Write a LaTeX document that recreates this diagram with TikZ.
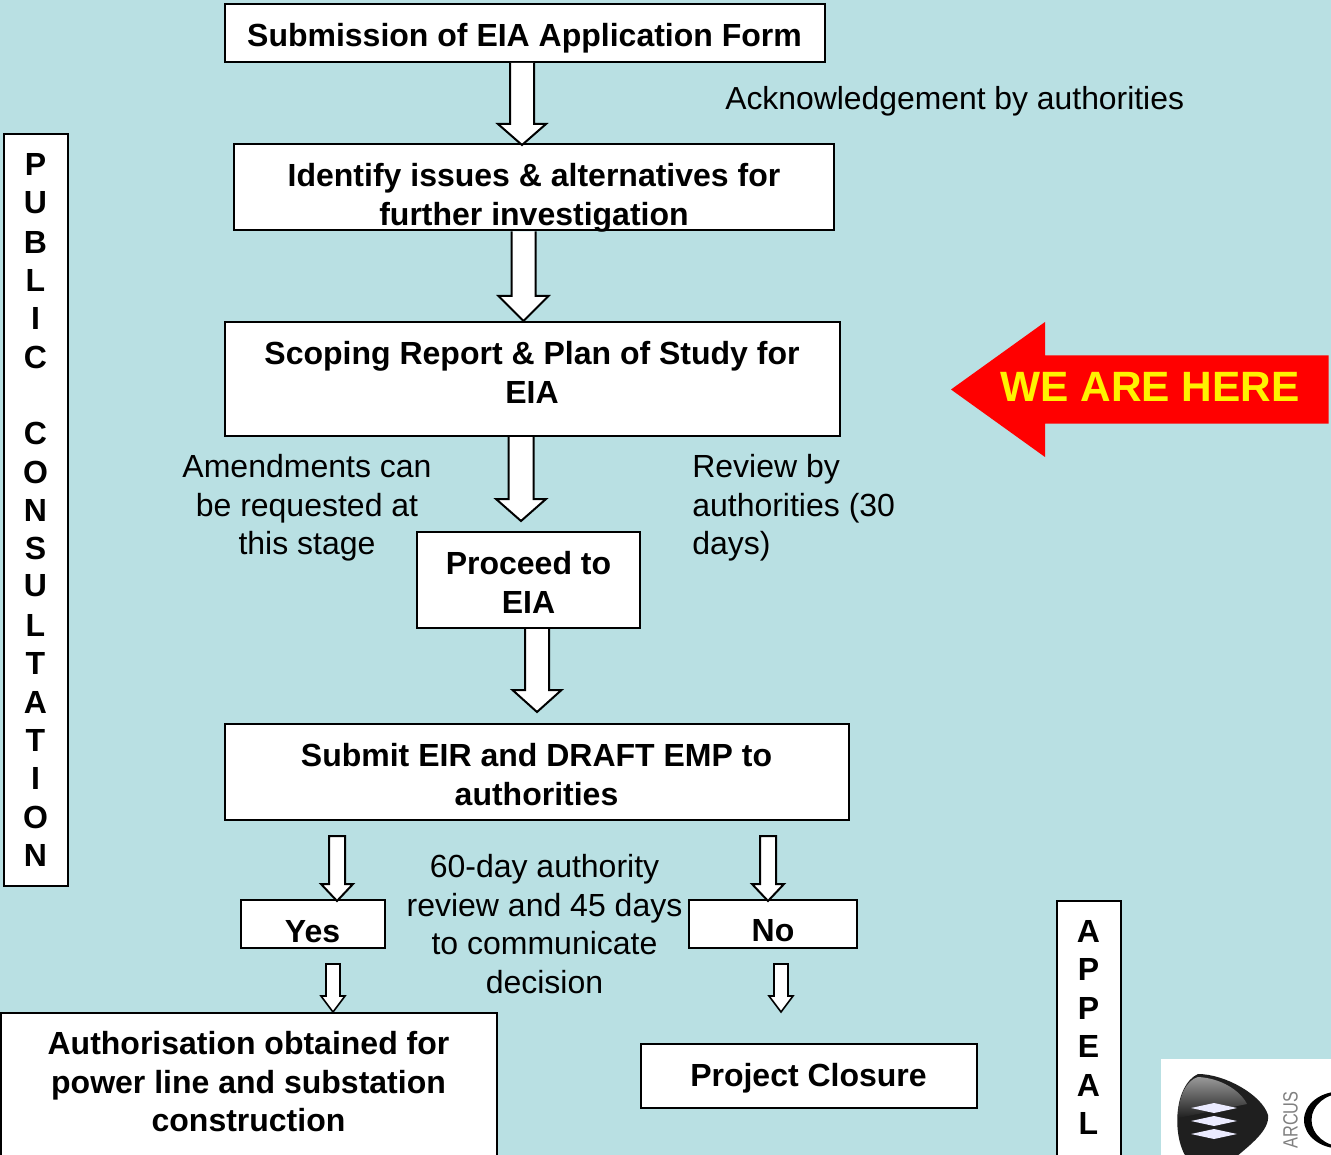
\documentclass[tikz,border=0pt]{standalone}
\usepackage{fontspec}
\setmainfont{Liberation Sans}
\usetikzlibrary{calc}
\definecolor{bgc}{HTML}{B9E0E3}
\tikzset{
 x=0.75pt,y=-0.75pt,
 box/.style={draw=black,fill=white,line width=1.5pt,align=center,inner sep=0pt,font=\boldtxt},
 boxlabel/.style={align=center,inner sep=0pt,font=\boldtxt},
 plain/.style={align=center,inner sep=0pt,font=\regtxt},
 flow/.style={draw=black,fill=white,line width=1.5pt,line join=miter}
}
\newcommand{\boldtxt}{\fontsize{24}{28.9}\selectfont\bfseries}
\newcommand{\regtxt}{\fontsize{24}{28.9}\selectfont}
% \flowarrow{from-node}{x}{tip y}{head start y}{shaft half}{head half}
\newcommand{\flowarrow}[6]{%
 \draw[flow] let \p1=(#1.south) in
   (#2-#5,\y1) -- (#2-#5,#4) -- (#2-#6,#4) -- (#2,#3) -- (#2+#6,#4) -- (#2+#5,#4) -- (#2+#5,\y1);}
\begin{document}
\begin{tikzpicture}
\useasboundingbox (0,0) rectangle (1331,1155);
\fill[bgc] (0,0) rectangle (1331,1155);
\node[box,minimum width=600*0.75pt,minimum height=58*0.75pt] (a) at (524.5,33) {};
\node[box,minimum width=600*0.75pt,minimum height=86*0.75pt] (b) at (534,187.5) {};
\node[box,minimum width=615*0.75pt,minimum height=114*0.75pt] (c) at (532.5,379) {};
\node[box,minimum width=223*0.75pt,minimum height=96*0.75pt] (d) at (528.5,580) {};
\node[box,minimum width=624*0.75pt,minimum height=96*0.75pt] (e) at (536.5,772) {};
\coordinate (eyes) at (337,836);
\coordinate (eno) at (768,836);
\node[box,minimum width=144*0.75pt,minimum height=48*0.75pt] (y) at (312.5,924) {};
\node[box,minimum width=168*0.75pt,minimum height=48*0.75pt] (n) at (773,924) {};
\coordinate (yy) at (333,964);
\coordinate (nn) at (781,964);
\node[box,minimum width=496*0.75pt,minimum height=150*0.75pt,anchor=north west] (f) at (0,1011.5) {};
\node[box,minimum width=336*0.75pt,minimum height=64*0.75pt] (g) at (808.5,1076) {};
% block arrows
\flowarrow{a}{522}{145}{124}{12}{24}
\flowarrow{b}{523.5}{321}{296}{12}{25}
\flowarrow{c}{521}{521}{499}{12.5}{25}
\flowarrow{d}{537}{712}{690}{12}{24.5}
\draw[flow] (eyes)++(-8,0) -- ++(0,48) -- ++(-8,0) -- (337,901) -- (353,884) -- (345,884) -- (345,836) -- cycle;
\draw[flow] (eno)++(-8,0) -- ++(0,48) -- ++(-8,0) -- (768,901) -- (784,884) -- (776,884) -- (776,836) -- cycle;
\draw[flow,line width=1.2pt] (yy)++(-7,0) -- ++(0,32) -- ++(-5,0) -- (333,1012) -- (345,996) -- (340,996) -- (340,964) -- cycle;
\draw[flow,line width=1.2pt] (nn)++(-7,0) -- ++(0,32) -- ++(-5,0) -- (781,1012) -- (793,996) -- (788,996) -- (788,964) -- cycle;
% box labels
\node[boxlabel] (at) at (524.5,38) {Submission of EIA Application Form};
\node[boxlabel] (bt) at (534,198) {Identify issues \& alternatives for\\further investigation};
\node[boxlabel] (ct) at (532,372.5) {Scoping Report \& Plan of Study for\\EIA};
\node[boxlabel] (dt) at (528.5,582.5) {Proceed to\\EIA};
\node[boxlabel] (et) at (536.5,774.5) {Submit EIR and DRAFT EMP to\\authorities};
\node[boxlabel] (yt) at (312.5,932) {Yes};
\node[boxlabel] (nt) at (773,931) {No};
\node[boxlabel] (ft) at (248.5,1082) {Authorisation obtained for\\power line and substation\\construction};
\node[boxlabel] (gt) at (808.5,1078) {Project Closure};
% side boxes
\node[box,minimum width=64*0.75pt,minimum height=752*0.75pt] (pc) at (36,510) {};
\foreach \ch/\yy in {P/164,U/203,B/242,L/280,I/318,C/357,C/433,O/472,N/510,S/548,U/586,L/625,T/663,A/702,T/740,I/778,O/817,N/855}
  \node[font=\boldtxt,inner sep=0pt] at (35.5,\yy) {\ch};
\node[box,minimum width=64*0.75pt,minimum height=270*0.75pt,anchor=north] (ap) at (1089,900) {};
\foreach \ch/\yy in {A/931,P/969,P/1008,E/1046,A/1085,L/1123}
  \node[font=\boldtxt,inner sep=0pt] at (1088.5,\yy) {\ch};
% free labels
\node[plain,anchor=west,font=\fontsize{23.9}{28.9}\selectfont] (ack) at (725,101) {Acknowledgement by authorities};
\node[plain] (am) at (307,508) {Amendments can\\be requested at\\this stage};
\node[plain,align=left,anchor=west] (rv) at (692,508) {Review by\\authorities (30\\days)};
\node[plain] (rev) at (544.5,924) {60-day authority\\review and 45 days\\to communicate\\decision};
% we are here
\fill[red] (951,389.5) -- (1045,322) -- (1045,355.5) -- (1328.5,355.5) -- (1328.5,423.5) -- (1045,423.5) -- (1045,457) -- cycle;
\node[font=\fontsize{31.8}{36}\selectfont\bfseries,text=yellow,inner sep=0pt] (wah) at (1150,387) {WE ARE HERE};
% logo
\begin{scope}
\clip (1161,1059) rectangle (1331,1155);
\fill[white] (1161,1059) rectangle (1331,1155);
\fill[black!88] (1198,1074) .. controls (1225,1074) and (1262,1095) .. (1268,1115) .. controls (1270,1130) and (1250,1145) .. (1236,1157) -- (1186,1157) .. controls (1172,1135) and (1174,1085) .. (1198,1074) -- cycle;
\shade[top color=black!40,bottom color=black!88] (1198,1077) .. controls (1220,1078) and (1240,1090) .. (1247,1104) -- (1178,1118) .. controls (1178,1098) and (1186,1080) .. (1198,1077) -- cycle;
\foreach \dy in {1108,1121,1134}
  \fill[white!92!blue] (1191,\dy) -- (1214,\dy-5) -- (1237,\dy) -- (1214,\dy+5) -- cycle;
\node[rotate=90,text=black!50,font=\fontsize{15.5}{16}\selectfont,inner sep=0pt] (arcus) at (1290.5,1120) {\scalebox{0.79}[1]{ARCUS}};
\fill[black,even odd rule] (1340,1120) ellipse[x radius=36,y radius=28.5] (1343,1120) ellipse[x radius=31.5,y radius=26.5];
\end{scope}
\end{tikzpicture}
\end{document}
